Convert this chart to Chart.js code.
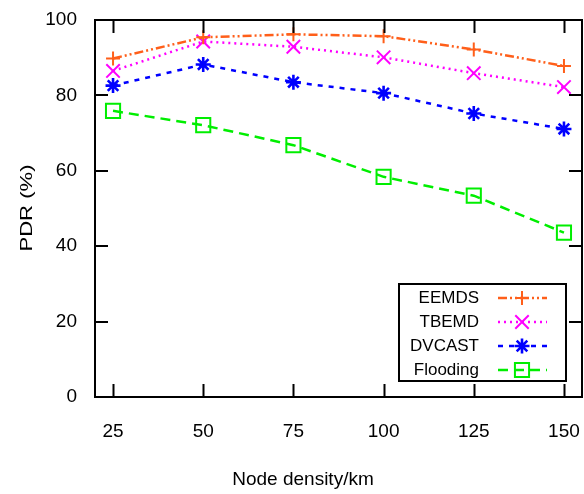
<!DOCTYPE html>
<html>
<head>
<meta charset="utf-8">
<script src="https://cdn.jsdelivr.net/npm/chart.js@4/dist/chart.umd.min.js"></script>
<style>
  html, body { margin: 0; padding: 0; background: #fff; }
  #wrap { width: 584px; height: 494px; }
</style>
</head>
<body>
<div id="wrap"><canvas id="pdrChart" width="584" height="494"></canvas></div>
<script>
// Daten
const nodeDensity = [25, 50, 75, 100, 125, 150];
const yTicks = [0, 20, 40, 60, 80, 100];
const eemds = [89.8, 95.4, 96.2, 95.7, 92.2, 87.8];
const tbemd = [86.5, 94.3, 92.9, 90.1, 85.9, 82.2];
const dvcast = [82.6, 88.2, 83.5, 80.6, 75.2, 71.1];
const flooding = [75.9, 72.1, 66.8, 58.4, 53.4, 43.6];

const FONT = "'Liberation Sans', Arial, sans-serif";

function pts(arr) {
  return arr.map((v, i) => ({ x: nodeDensity[i], y: v }));
}

const datasets = [
  { label: 'EEMDS', data: pts(eemds), borderColor: '#ff5f1a', borderDash: [9, 3, 2, 3, 2, 3],
    pointStyle: 'cross', pointRadius: 7, pointBorderWidth: 2 },
  { label: 'TBEMD', data: pts(tbemd), borderColor: '#ff00ff', borderDash: [2, 4],
    pointStyle: 'crossRot', pointRadius: 9.5, pointBorderWidth: 2 },
  { label: 'DVCAST', data: pts(dvcast), borderColor: '#0000ff', borderDash: [5, 6],
    pointStyle: 'star', pointRadius: 7.5, pointBorderWidth: 2.6 },
  { label: 'Flooding', data: pts(flooding), borderColor: '#00ee00', borderDash: [10, 6],
    pointStyle: 'rect', pointRadius: 10, pointBorderWidth: 2 }
].map(d => Object.assign(d, {
  backgroundColor: 'rgba(0,0,0,0)',
  pointBorderColor: d.borderColor,
  pointBackgroundColor: 'rgba(0,0,0,0)',
  pointHoverRadius: d.pointRadius,
  borderWidth: 2.5,
  fill: false,
  tension: 0
}));

// kein Überhang-Padding für die Randlabels
function noPad(s) {
  s.paddingLeft = 0; s.paddingRight = 0; s.paddingTop = 0; s.paddingBottom = 0;
}

// Rahmen, Ticks nach innen, Legende, Achsentitel
const framePlugin = {
  id: 'frame',
  afterDatasetsDraw(chart) {
    const { ctx, chartArea: a, scales: { x, y } } = chart;
    ctx.save();
    ctx.strokeStyle = '#000';
    ctx.lineWidth = 2;
    const tl = 13;
    ctx.beginPath();
    nodeDensity.forEach(v => {
      const px = Math.round(x.getPixelForValue(v)) + 0.5;
      ctx.moveTo(px, a.bottom); ctx.lineTo(px, a.bottom - tl);
      ctx.moveTo(px, a.top); ctx.lineTo(px, a.top + tl);
    });
    yTicks.forEach(v => {
      const py = Math.round(y.getPixelForValue(v));
      ctx.moveTo(a.left, py); ctx.lineTo(a.left + tl, py);
      ctx.moveTo(a.right, py); ctx.lineTo(a.right - tl, py);
    });
    ctx.stroke();
    ctx.strokeRect(a.left, a.top, a.right - a.left, a.bottom - a.top);

    // Legende
    const bx = 399, by = 284, bw = 167, bh = 97;
    ctx.fillStyle = '#fff';
    ctx.fillRect(bx, by, bw, bh);
    ctx.strokeRect(bx, by, bw, bh);
    ctx.font = '17px ' + FONT;
    ctx.textAlign = 'right';
    ctx.textBaseline = 'middle';
    chart.data.datasets.forEach((ds, i) => {
      const ry = by + 14 + i * 24;
      ctx.fillStyle = '#000';
      ctx.fillText(ds.label, 479, ry);
      ctx.strokeStyle = ds.borderColor;
      ctx.lineWidth = 2.5;
      ctx.setLineDash(ds.borderDash);
      ctx.beginPath();
      ctx.moveTo(498, ry); ctx.lineTo(547, ry);
      ctx.stroke();
      ctx.setLineDash([]);
      ctx.lineWidth = ds.pointBorderWidth;
      ctx.fillStyle = 'rgba(0,0,0,0)';
      Chart.helpers.drawPoint(ctx, {
        pointStyle: ds.pointStyle, radius: ds.pointRadius,
        borderWidth: ds.pointBorderWidth, rotation: 0
      }, 522, ry);
    });

    // Achsentitel
    ctx.fillStyle = '#000';
    ctx.font = '19px ' + FONT;
    ctx.textAlign = 'center';
    ctx.fillText('Node density/km', 303, 480);

    ctx.translate(27, 208);
    ctx.rotate(-Math.PI / 2);
    ctx.scale(1.3, 1);
    ctx.font = '17px ' + FONT;
    ctx.fillText('PDR (%)', 0, 0);
    ctx.restore();
  }
};

const ctx = document.getElementById('pdrChart').getContext('2d');
new Chart(ctx, {
  type: 'line',
  data: { datasets },
  options: {
    responsive: false,
    animation: false,
    events: [],
    layout: { autoPadding: false, padding: { left: 0, right: 2, top: 20, bottom: 0 } },
    plugins: { legend: { display: false }, tooltip: { enabled: false } },
    scales: {
      x: {
        type: 'linear', min: 20, max: 155,
        afterBuildTicks: s => { s.ticks = nodeDensity.map(v => ({ value: v })); },
        afterFit: s => { s.height = 97; noPad(s); },
        grid: { display: false, drawTicks: false },
        border: { display: false },
        ticks: { color: '#000', font: { family: FONT, size: 19 }, padding: 23, maxRotation: 0 }
      },
      y: {
        min: 0, max: 100,
        afterBuildTicks: s => { s.ticks = yTicks.map(v => ({ value: v })); },
        afterFit: s => { s.width = 95; noPad(s); },
        grid: { display: false, drawTicks: false },
        border: { display: false },
        ticks: { color: '#000', font: { family: FONT, size: 19 }, padding: 18 }
      }
    }
  },
  plugins: [framePlugin]
});
</script>
</body>
</html>
